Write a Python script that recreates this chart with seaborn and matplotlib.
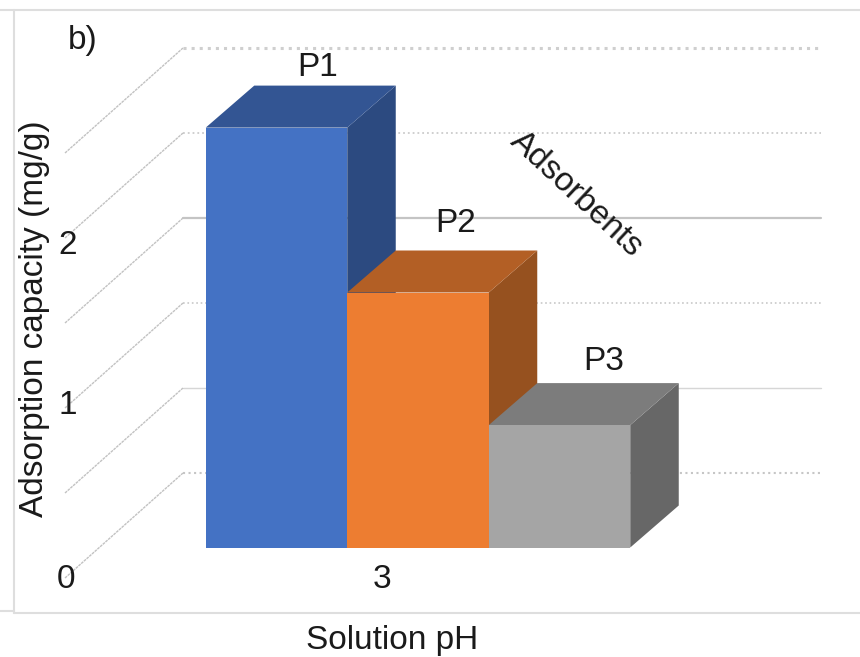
import numpy as np
import pandas as pd
import seaborn as sns
import matplotlib
matplotlib.use('Agg')
import matplotlib.pyplot as plt
from matplotlib.lines import Line2D

adsorbents = ['P1', 'P2', 'P3']
capacity = [2.47, 1.50, 0.72]
wall_ticks = [0, 0.5, 1, 1.5, 2, 2.5]
axis_labels = ['0', '1', '2']

front_colors = ['#4472C4', '#ED7D31', '#A5A5A5']
top_colors = ['#335593', '#B35F25', '#7C7C7C']
side_colors = ['#2C4A80', '#96511F', '#676767']

W, H = 860, 657
PX_PER_UNIT = 170
BASE_Y = 547.5
BAR_PX = 141.5
FIRST_X = 276.5

sns.set_theme(style='white')
plt.rcParams['font.family'] = ['Liberation Sans', 'DejaVu Sans']
TXT = '#1a1a1a'
FS = 24

df = pd.DataFrame({'adsorbent': adsorbents, 'capacity': capacity})

fig = plt.figure(figsize=(W / 100, H / 100), dpi=100, facecolor='white')
ax = fig.add_axes([0, 0, 1, 1])
sns.barplot(data=df, x='adsorbent', y='capacity', hue='adsorbent', palette=front_colors,
            width=1, saturation=1, legend=False, ax=ax)
ax.set_xlim(-FIRST_X / BAR_PX, (W - FIRST_X) / BAR_PX)
ax.set_ylim((BASE_Y - H) / PX_PER_UNIT, BASE_Y / PX_PER_UNIT)
ax.axis('off')

# depth of the fake 3d bars and of the floor, in data units
dx = 48.5 / BAR_PX
dy = 42 / PX_PER_UNIT
wall_dy = (BASE_Y - 473) / PX_PER_UNIT
wall_left = (183 - FIRST_X) / BAR_PX
wall_right = (821 - FIRST_X) / BAR_PX
diag_left = (65 - FIRST_X) / BAR_PX
diag_dy = 105 / PX_PER_UNIT

grid_styles = [(':', 1.5, '#c6c6c6'), ('-', 1.0, '#d6d6d6'), (':', 1.2, '#c8c8c8'),
               ('-', 1.6, '#c4c4c4'), (':', 1.3, '#cccccc'), (':', 2.2, '#cfcfcf')]
for v, (ls, lw, col) in zip(wall_ticks, grid_styles):
    y = v + wall_dy
    ax.plot([wall_left, wall_right], [y, y], ls=ls, lw=lw, color=col, zorder=1)
    ax.plot([diag_left, wall_left], [y - diag_dy, y], ls=(0, (2, 0.6)), lw=1.0, color='#c2c2c2', zorder=1)

for i, p in enumerate(ax.patches):
    x0, w, h = p.get_x(), p.get_width(), p.get_height()
    x1 = x0 + w
    z = 3 + i
    ax.fill([x1, x1 + dx, x1 + dx, x1], [0, dy, h + dy, h], color=side_colors[i], lw=0, zorder=z)
    ax.fill([x0, x1, x1 + dx, x0 + dx], [h, h, h + dy, h + dy], color=top_colors[i], lw=0, zorder=z)
    p.set_zorder(z + 0.5)
    p.set_linewidth(0)

def put(x, y, s, **kw):
    fig.text(x / W, 1 - y / H, s, fontsize=FS, color=TXT, ha='center', va='center',
             rotation_mode='anchor', **kw)

put(83, 40, 'b)')
put(318, 67, adsorbents[0])
put(456, 224, adsorbents[1])
put(604, 362, adsorbents[2])
put(382, 579, '3')
put(392, 640, 'Solution pH')
put(35, 319, 'Adsorption capacity (mg/g)', rotation=90)
put(576, 194, 'Adsorbents', rotation=-43)
for s, xx, yy in zip(axis_labels, [66, 68, 68], [580, 405, 245]):
    put(xx, yy, s)

frame = '#dedede'
for xs, ys in [((0, 860), (10, 10)), ((14, 14), (10, 613)), ((14, 860), (613, 613)), ((0, 14), (611, 611))]:
    fig.add_artist(Line2D([a / W for a in xs], [1 - b / H for b in ys], color=frame, lw=1.5))

fig.savefig('out.png', dpi=100)
